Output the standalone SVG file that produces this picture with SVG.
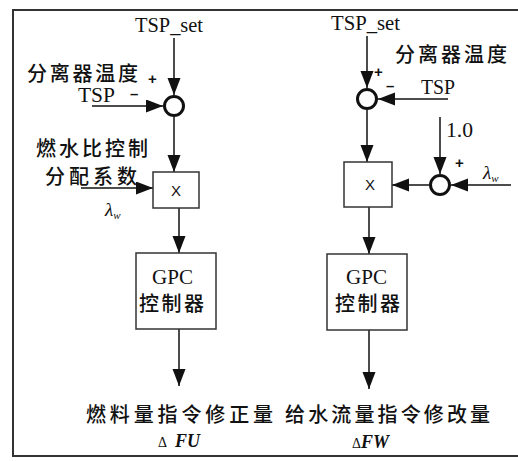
<svg xmlns="http://www.w3.org/2000/svg" width="518" height="461" viewBox="0 0 518 461">
<style>
.ln{stroke:#111;stroke-width:1.5;fill:none}
.sum{stroke:#111;stroke-width:3;fill:#fff}
.box{stroke:#333;stroke-width:1.5;fill:#fff}
.cn{font-family:"Liberation Serif","Noto Sans CJK SC",serif;font-size:20px;fill:#111;font-weight:500}
.lat{font-family:"Liberation Serif",serif;font-size:20px;fill:#111}
.sign{font-family:"Liberation Sans",sans-serif;font-size:15px;fill:#111;font-weight:bold}
.x{font-family:"Liberation Sans",sans-serif;font-size:15px;fill:#111}
.lam{font-family:"Liberation Serif",serif;font-style:italic;font-size:19px;fill:#111}
.out{font-family:"Liberation Serif",serif;font-style:italic;font-weight:bold;font-size:18px;fill:#111}
.dl{font-family:"Liberation Serif",serif;font-size:14px;fill:#111}
</style>
<defs>
<marker id="ah" markerUnits="userSpaceOnUse" markerWidth="18" markerHeight="14" refX="17" refY="6.5" orient="auto">
<path d="M0,0 L17,6.5 L0,13 Z" fill="#111"/>
</marker>
</defs>
<rect width="518" height="461" fill="#fff"/>
<path d="M518,10 H13 V456 H518" fill="none" stroke="#333" stroke-width="2"/>

<g id="connectors">
<line class="ln" x1="174" y1="38" x2="174" y2="95" marker-end="url(#ah)"/>
<line class="ln" x1="92" y1="106" x2="163" y2="106" marker-end="url(#ah)"/>
<line class="ln" x1="174" y1="117" x2="174" y2="172" marker-end="url(#ah)"/>
<line class="ln" x1="81" y1="188" x2="153" y2="188" marker-end="url(#ah)"/>
<line class="ln" x1="179" y1="208" x2="179" y2="253" marker-end="url(#ah)"/>
<line class="ln" x1="179" y1="329" x2="179" y2="386" marker-end="url(#ah)"/>
<line class="ln" x1="367" y1="36" x2="367" y2="88" marker-end="url(#ah)"/>
<line class="ln" x1="448" y1="99" x2="378" y2="99" marker-end="url(#ah)"/>
<line class="ln" x1="367" y1="110" x2="367" y2="162" marker-end="url(#ah)"/>
<line class="ln" x1="440" y1="117" x2="440" y2="174" marker-end="url(#ah)"/>
<line class="ln" x1="511" y1="185" x2="451" y2="185" marker-end="url(#ah)"/>
<line class="ln" x1="429" y1="185" x2="392" y2="185" marker-end="url(#ah)"/>
<line class="ln" x1="369" y1="207" x2="369" y2="254" marker-end="url(#ah)"/>
<line class="ln" x1="369" y1="330" x2="369" y2="389" marker-end="url(#ah)"/>
</g>

<g id="left-sum">
<circle class="sum" cx="174" cy="106" r="9.5"/>
<text class="lat" x="135" y="32" textLength="68" lengthAdjust="spacingAndGlyphs">TSP_set</text>
<text class="cn" x="27" y="81" textLength="111" lengthAdjust="spacing">分离器温度</text>
<text class="sign" x="148" y="84">+</text>
<text class="lat" x="78" y="102" font-size="18" textLength="37" lengthAdjust="spacingAndGlyphs">TSP</text>
<text class="sign" x="130" y="99">–</text>
</g>

<g id="left-mult">
<rect class="box" x="153" y="172" width="46" height="36"/>
<text class="x" x="176" y="196" text-anchor="middle">X</text>
<text class="cn" x="36" y="156" textLength="112" lengthAdjust="spacing">燃水比控制</text>
<text class="cn" x="45" y="184" textLength="92" lengthAdjust="spacing">分配系数</text>
<text class="lam" x="105" y="216">λ<tspan font-size="11" dy="3">w</tspan></text>
</g>

<g id="left-gpc">
<rect class="box" x="136" y="253" width="80" height="76"/>
<text class="lat" x="152" y="284" font-size="21" textLength="41" lengthAdjust="spacingAndGlyphs">GPC</text>
<text class="cn" x="139" y="311" textLength="65" lengthAdjust="spacing">控制器</text>
</g>

<g id="left-out">
<text class="cn" x="86" y="422" textLength="187" lengthAdjust="spacing">燃料量指令修正量</text>
<text class="dl" x="158" y="447">Δ</text>
<text class="out" x="175" y="447">FU</text>
</g>

<g id="right-sum">
<circle class="sum" cx="367" cy="99" r="9.5"/>
<text class="lat" x="331" y="30" textLength="69" lengthAdjust="spacingAndGlyphs">TSP_set</text>
<text class="cn" x="395" y="62" textLength="112" lengthAdjust="spacing">分离器温度</text>
<text class="sign" x="374" y="77">+</text>
<text class="sign" x="386" y="91">–</text>
<text class="lat" x="421" y="94" font-size="19" textLength="34" lengthAdjust="spacingAndGlyphs">TSP</text>
</g>

<g id="right-mult">
<rect class="box" x="344" y="162" width="48" height="45"/>
<text class="x" x="370" y="190" text-anchor="middle">X</text>
</g>

<g id="right-sum2">
<circle class="sum" cx="440" cy="185" r="9.5"/>
<text class="lat" x="446" y="137" textLength="27" lengthAdjust="spacingAndGlyphs">1.0</text>
<text class="sign" x="455" y="168">+</text>
<text class="lam" x="483" y="179">λ<tspan font-size="11" dy="3">w</tspan></text>
</g>

<g id="right-gpc">
<rect class="box" x="327" y="254" width="80" height="76"/>
<text class="lat" x="346" y="284" font-size="21" textLength="41" lengthAdjust="spacingAndGlyphs">GPC</text>
<text class="cn" x="335" y="311" textLength="65" lengthAdjust="spacing">控制器</text>
</g>

<g id="right-out">
<text class="cn" x="285" y="422" textLength="205" lengthAdjust="spacing">给水流量指令修改量</text>
<text class="dl" x="352" y="448">Δ</text>
<text class="out" x="361" y="448">FW</text>
</g>
</svg>
